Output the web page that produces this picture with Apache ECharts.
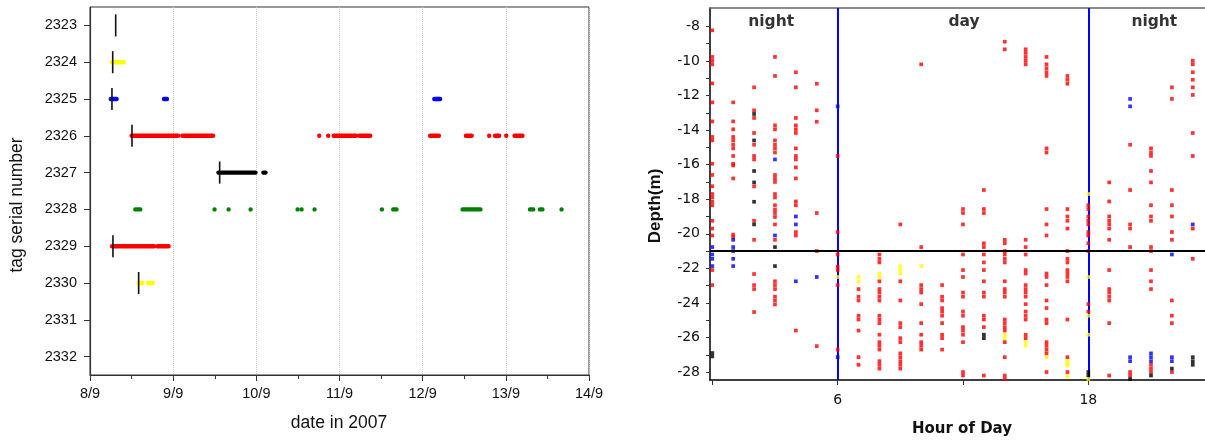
<!DOCTYPE html>
<html><head><meta charset="utf-8">
<script src="https://cdn.jsdelivr.net/npm/echarts@6/dist/echarts.min.js"></script>
<style>html,body{margin:0;padding:0;background:#fff}#c{width:1205px;height:440px}</style>
</head><body><div id="c"></div>
<script>
// ---------- Left panel data ----------
const dateTicks = [8, 9, 10, 11, 12, 13, 14];
const tagTicks = [2323, 2324, 2325, 2326, 2327, 2328, 2329, 2330, 2331, 2332];
const releaseTags  = [2323, 2324, 2325, 2326, 2327, 2329, 2330];
const releaseDates = [8.309, 8.273, 8.264, 8.505, 9.559, 8.276, 8.585];
const seg2324 = [[8.265, 8.405]];
const seg2325 = [[8.25, 8.32], [8.89, 8.925], [12.14, 12.21]];
const seg2326 = [[8.50, 9.06], [9.11, 9.48], [10.756, 10.756], [10.864, 10.864], [10.93, 11.20], [11.24, 11.37],
                 [12.09, 12.195], [12.52, 12.59], [12.80, 12.80], [12.87, 12.92], [13.005, 13.005], [13.105, 13.20]];
const seg2327 = [[9.545, 9.99], [10.085, 10.11]];
const seg2328 = [[8.545, 8.605], [9.498, 9.498], [9.667, 9.667], [9.931, 9.931], [10.496, 10.496], [10.544, 10.544],
                 [10.70, 10.70], [11.51, 11.51], [11.646, 11.686], [12.48, 12.695], [13.29, 13.33], [13.41, 13.44], [13.67, 13.67]];
const seg2329 = [[8.265, 8.77], [8.81, 8.945]];
const seg2330 = [[8.585, 8.63], [8.70, 8.755]];

// ---------- Right panel data ----------
const hourTicks = [0, 6, 12, 18];
const hourLabels = [6, 18];
const depthTicks = [-28,-27,-26,-25,-24,-23,-22,-21,-20,-19,-18,-17,-16,-15,-14,-13,-12,-11,-10,-9,-8];
const depthLabels = [-28,-26,-24,-22,-20,-18,-16,-14,-12,-10,-8];
const dayStart = 6, dayEnd = 18, thermoDepth = -21;
const redByHour = [
  [-8.23,-9.77,-9.99,-10.2,-11.3,-12.4,-13.5,-14.4,-14.6,-15.95,-16.6,-17.25,-17.7,-17.9,-18.15,-18.35,-19.25,-19.7,-20.1,-22.1,-22.97],
  [-12.4,-13.5,-13.96,-14.4,-14.6,-14.85,-15.06,-15.5,-15.95,-16.05,-16.8,-20.05,-20.2],
  [-11.53,-12.86,-13.3,-14.17,-14.85,-15.5,-15.7,-17.26,-19.25,-20.35,-22.33,-22.97,-23.2,-24.53],
  [-9.77,-10.87,-13.73,-13.96,-14.6,-14.85,-15.06,-15.3,-16.6,-16.8,-17.0,-17.7,-17.9,-18.35,-18.6,-18.8,-19.03,-19.46,-20.35,-22.75,-22.97,-23.2,-23.64,-23.86,-24.09],
  [-10.66,-11.53,-13.3,-13.73,-13.96,-14.17,-15.06,-15.5,-15.7,-16.16,-16.8,-18.13,-18.35,-19.9,-20.1,-25.6],
  [-11.32,-12.86,-13.52,-18.8,-21.0,-26.5],
  [-15.5,-19.9,-21.2,-21.9,-22.1,-22.97,-26.7],
  [-23.2,-23.64,-23.86,-24.74,-24.96,-25.6,-27.14,-27.58],
  [-21.2,-21.45,-21.66,-22.75,-23.2,-23.4,-23.64,-23.86,-24.74,-24.96,-25.17,-25.84,-26.27,-26.48,-26.7,-27.37,-27.58,-27.8],
  [-19.46,-22.75,-23.86,-25.17,-25.4,-26.04,-26.27,-26.92,-27.14,-27.37,-27.58,-27.8],
  [-10.2,-20.77,-22.97,-23.2,-23.4,-24.07,-25.17,-25.84,-26.27,-26.48,-26.7],
  [-22.97,-23.64,-23.86,-24.3,-24.5,-24.74,-25.17,-25.84,-26.04,-26.7],
  [-18.57,-18.8,-19.46,-21.2,-22.1,-22.5,-23.4,-23.64,-24.5,-24.74,-25.4,-25.6,-25.84,-26.27,-28.0,-28.2],
  [-17.47,-18.57,-18.8,-20.55,-20.77,-21.2,-21.66,-22.1,-22.75,-23.4,-23.64,-24.74,-24.96,-25.4,-28.2],
  [-8.89,-9.33,-20.35,-20.55,-21.0,-21.2,-21.45,-21.66,-22.75,-23.2,-23.4,-23.64,-24.96,-25.17,-25.4,-25.6,-26.27,-27.14,-28.2,-28.4],
  [-9.33,-9.54,-9.77,-9.99,-10.2,-20.35,-20.77,-21.2,-22.1,-22.3,-22.97,-23.2,-23.4,-23.64,-24.07,-24.5,-24.74,-24.96,-25.84,-26.04],
  [-9.77,-10.2,-10.43,-10.66,-10.87,-15.06,-15.3,-18.57,-19.46,-20.1,-22.3,-22.5,-22.97,-23.86,-24.3,-24.96,-25.17,-26.27,-26.48,-26.7,-26.92,-28.0],
  [-10.87,-11.09,-11.32,-18.57,-19.0,-19.25,-19.7,-21.0,-21.45,-21.66,-22.1,-22.3,-22.5,-22.75,-24.96,-27.14,-28.0],
  [-18.35,-18.57,-19.0,-19.25,-19.46,-19.9,-20.1,-20.55,-21.0,-24.07,-24.5],
  [-17.03,-18.13,-19.0,-19.25,-19.46,-19.7,-20.35,-22.1,-23.2,-23.4,-23.64,-23.86,-25.17,-28.2],
  [-14.85,-17.47,-19.46,-19.7,-20.77,-28.0,-28.2],
  [-15.06,-15.3,-15.5,-16.37,-17.03,-18.35,-19.0,-19.25,-20.77,-21.0,-22.1,-22.75,-23.2,-27.58,-27.8,-28.0],
  [-11.53,-12.2,-17.47,-18.35,-19.0,-19.9,-20.35,-23.86,-24.74,-25.17,-28.0],
  [-9.99,-10.2,-10.66,-11.09,-11.53,-11.97,-14.17,-15.5,-19.7,-21.45]
];
const bluePoints = [[0,-20.77],[0,-21.2],[0,-21.45],[0,-21.87],[1,-20.35],[1,-20.77],[1,-21.0],[1,-21.45],[1,-21.87],
  [3,-15.7],[3,-20.1],[4,-19.0],[4,-19.46],[4,-22.75],[5,-22.5],[6,-12.63],[6,-27.14],
  [20,-12.2],[20,-12.63],[20,-27.14],[20,-27.37],[21,-26.92],[21,-27.14],[21,-27.37],[22,-21.2],[22,-27.14],[22,-27.37],[23,-19.46]];
const blackPoints = [[0,-26.9],[0,-27.1],[2,-13.07],[2,-14.6],[2,-16.37],[2,-17.03],[2,-18.15],[2,-19.46],[3,-20.77],[3,-21.87],
  [13,-25.84],[13,-26.04],[18,-28.0],[18,-28.2],[20,-28.4],[21,-28.2],[22,-27.8],[23,-27.14],[23,-27.37],[23,-27.58]];
const yellowPoints = [[6,-22.5],[7,-22.5],[7,-22.75],[8,-22.3],[8,-22.5],[9,-21.87],[9,-22.1],[9,-22.3],[10,-21.87],
  [14,-25.84],[14,-26.04],[15,-26.27],[15,-26.48],[16,-27.14],[17,-27.37],[17,-27.5],[17,-27.62],[17,-28.25],
  [18,-17.7],[18,-22.5],[18,-24.74],[18,-25.84],[18,-28.4]];
const periodNames = ['night', 'day', 'night'];
const periodHours = [2.82, 12.05, 21.16];
const periodDepth = -7.73;

// ---------- build ----------
const redPoints = [];
redByHour.forEach((arr, h) => arr.forEach(d => redPoints.push([h, d])));

const LF = "'Liberation Sans', Arial, sans-serif";
const DF = "'DejaVu Sans', sans-serif";
const hourMin = -0.11, hourMax = 23.585;

function segSeries(tag, segs, color) {
  return {
    type: 'custom', xAxisIndex: 0, yAxisIndex: 0, z: 3, silent: true,
    data: segs.map(s => [s[0], s[1], tag]),
    encode: { x: [0, 1], y: 2 },
    renderItem: function (params, api) {
      const p1 = api.coord([api.value(0), api.value(2)]);
      const p2 = api.coord([api.value(1), api.value(2)]);
      const h = 4.4;
      return { type: 'rect', shape: { x: p1[0] - h / 2, y: p1[1] - h / 2, width: p2[0] - p1[0] + h, height: h, r: h / 2 },
               style: { fill: color } };
    }
  };
}

const series = [
  segSeries(2324, seg2324, '#ffff00'),
  segSeries(2325, seg2325, '#0000ff'),
  segSeries(2326, seg2326, '#ff0000'),
  segSeries(2327, seg2327, '#000000'),
  segSeries(2328, seg2328, '#008000'),
  segSeries(2329, seg2329, '#ff0000'),
  segSeries(2330, seg2330, '#ffff00'),
  {
    type: 'custom', xAxisIndex: 0, yAxisIndex: 0, z: 4, silent: true,
    data: releaseDates.map((d, i) => [d, releaseTags[i]]),
    encode: { x: 0, y: 1 },
    renderItem: function (params, api) {
      const p1 = api.coord([api.value(0), api.value(1) - 0.3]);
      const p2 = api.coord([api.value(0), api.value(1) + 0.3]);
      return { type: 'line', shape: { x1: p1[0], y1: p1[1], x2: p2[0], y2: p2[1] },
               style: { stroke: '#111', lineWidth: 1.6 } };
    }
  },
  {
    type: 'scatter', xAxisIndex: 1, yAxisIndex: 1, data: [], z: 1, silent: true,
    markLine: { silent: true, symbol: 'none', z: 1, label: { show: false }, animation: false,
      data: [{ xAxis: dayStart }, { xAxis: dayEnd }],
      lineStyle: { color: '#0000ff', width: 2, type: 'solid' } }
  },
  { type: 'scatter', xAxisIndex: 1, yAxisIndex: 1, data: redPoints, symbol: 'rect', symbolSize: 3.7,
    itemStyle: { color: '#ff0000' }, z: 3, silent: true },
  { type: 'scatter', xAxisIndex: 1, yAxisIndex: 1, data: bluePoints, symbol: 'rect', symbolSize: 3.7,
    itemStyle: { color: '#0000ff' }, z: 3, silent: true },
  { type: 'scatter', xAxisIndex: 1, yAxisIndex: 1, data: blackPoints, symbol: 'rect', symbolSize: 3.7,
    itemStyle: { color: '#000000' }, z: 3, silent: true },
  { type: 'scatter', xAxisIndex: 1, yAxisIndex: 1, data: yellowPoints, symbol: 'rect', symbolSize: 3.7,
    itemStyle: { color: '#ffff00' }, z: 3, silent: true },
  {
    type: 'scatter', xAxisIndex: 1, yAxisIndex: 1, data: [], z: 6, silent: true,
    markLine: { silent: true, symbol: 'none', z: 6, label: { show: false }, animation: false,
      data: [{ yAxis: thermoDepth }],
      lineStyle: { color: '#000000', width: 2, type: 'solid' } }
  },
  {
    type: 'scatter', xAxisIndex: 1, yAxisIndex: 1, symbolSize: 0, z: 7, silent: true,
    data: periodNames.map((n, i) => ({ name: n, value: [periodHours[i], periodDepth] })),
    label: { show: true, position: 'inside', formatter: p => p.name, color: '#000',
             fontFamily: DF, fontWeight: 'bold', fontSize: 15.5 }
  }
];

const option = {
  animation: false,
  backgroundColor: '#fff',
  grid: [
    { left: 90, top: 7, width: 499, height: 368, show: true, borderColor: '#333', borderWidth: 1, backgroundColor: 'transparent' },
    { left: 710, top: 8, width: 495, height: 372, show: false }
  ],
  xAxis: [
    { type: 'value', gridIndex: 0, min: dateTicks[0], max: dateTicks[dateTicks.length - 1], interval: 1,
      axisLine: { show: true, lineStyle: { color: '#333', width: 1.2 } },
      axisTick: { show: true, length: 6, inside: false, lineStyle: { color: '#333' } },
      minorTick: { show: true, splitNumber: 2, length: 4, lineStyle: { color: '#333' } },
      axisLabel: { formatter: v => v + '/9', fontFamily: LF, fontSize: 14.5, color: '#111', margin: 11 },
      splitLine: { show: true, lineStyle: { color: '#c8c8c8', type: 'dotted', width: 1 } } },
    { type: 'value', gridIndex: 1, min: hourMin, max: hourMax,
      axisLine: { show: true, lineStyle: { color: '#000', width: 1.5 } },
      axisTick: { show: true, length: 5, customValues: hourTicks, lineStyle: { color: '#333' } },
      axisLabel: { customValues: hourLabels, formatter: v => String(v), fontFamily: DF, fontSize: 14, color: '#111', margin: 13 },
      splitLine: { show: false } },
    { type: 'value', gridIndex: 1, position: 'top', min: hourMin, max: hourMax,
      axisLine: { show: true, onZero: false, lineStyle: { color: '#666', width: 1.5 } },
      axisTick: { show: false }, axisLabel: { show: false }, splitLine: { show: false } }
  ],
  yAxis: [
    { type: 'value', gridIndex: 0, min: 2322.5, max: 2332.5, inverse: true,
      axisLine: { show: true, lineStyle: { color: '#333', width: 1.2 } },
      axisTick: { show: true, length: 6, customValues: tagTicks, lineStyle: { color: '#333' } },
      axisLabel: { customValues: tagTicks, formatter: v => String(v), fontFamily: LF, fontSize: 14.5, color: '#111', margin: 13 },
      splitLine: { show: false } },
    { type: 'value', gridIndex: 1, min: -28.46, max: -6.94,
      axisLine: { show: true, onZero: false, lineStyle: { color: '#000', width: 1.5 } },
      axisTick: { show: true, length: 4, customValues: depthTicks, lineStyle: { color: '#333' } },
      axisLabel: { customValues: depthLabels, formatter: v => String(v), fontFamily: DF, fontSize: 14, color: '#111', margin: 10 },
      splitLine: { show: false } }
  ],
  graphic: [
    { type: 'text', x: 17, y: 205, rotation: Math.PI / 2,
      style: { text: 'tag serial number', font: "17.5px 'Liberation Sans', Arial, sans-serif", fill: '#111', align: 'center', verticalAlign: 'middle' } },
    { type: 'text', x: 339, y: 423,
      style: { text: 'date in 2007', font: "17.5px 'Liberation Sans', Arial, sans-serif", fill: '#111', align: 'center', verticalAlign: 'middle' } },
    { type: 'text', x: 655, y: 206, rotation: Math.PI / 2,
      style: { text: 'Depth(m)', font: "bold 17px 'Liberation Sans', Arial, sans-serif", fill: '#111', align: 'center', verticalAlign: 'middle' } },
    { type: 'text', x: 962, y: 429,
      style: { text: 'Hour of Day', font: "bold 15px 'DejaVu Sans', sans-serif", fill: '#111', align: 'center', verticalAlign: 'middle' } }
  ],
  series: series
};
const chart = echarts.init(document.getElementById('c'));
chart.setOption(option);
</script>
</body></html>
